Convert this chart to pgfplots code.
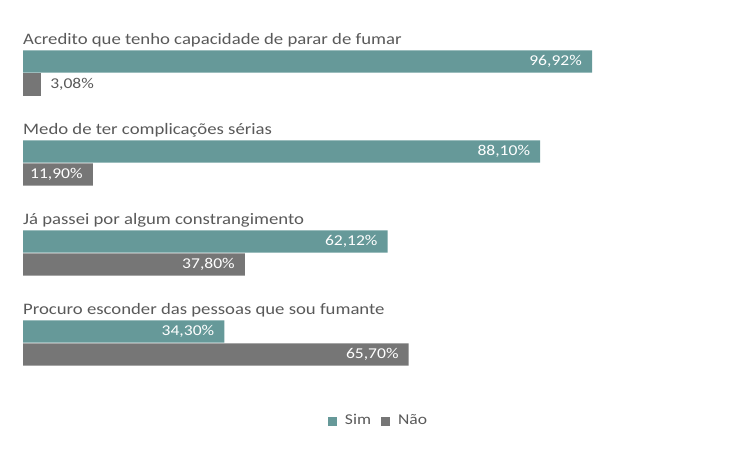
\documentclass[border=0pt]{standalone}
\usepackage{pgfplots}
\pgfplotsset{compat=1.18}
\usepackage{fontspec}
\setmainfont{Carlito}[FakeStretch=1.17]
\definecolor{simc}{RGB}{102,153,153}
\definecolor{naoc}{RGB}{118,118,118}
\definecolor{txt}{RGB}{89,89,89}
\begin{document}
\fontsize{16bp}{19bp}\selectfont
\begin{tikzpicture}
\useasboundingbox (-23bp,-64.5bp) rectangle (728bp,385.5bp);
\begin{axis}[
  at={(0,0)}, anchor=south west,
  scale only axis, width=587.1bp, height=378bp,
  xmin=0, xmax=100, ymin=-0.6, ymax=3.6, y dir=reverse,
  axis lines=none, ticks=none, clip=false,
  xbar, bar shift=0pt, bar width=0.245,
  point meta=explicit symbolic,
  nodes near coords,
  nodes near coords style={font=\fontsize{15bp}{18bp}\selectfont, text=white, anchor=east, inner sep=0pt, xshift=-10bp},
  legend style={at={(axis description cs:0.6055,-0.094)}, anchor=center, draw=none, fill=none,
    legend columns=2, font=\fontsize{15bp}{18bp}\selectfont\color{txt},
    /tikz/every even column/.append style={column sep=8bp}},
  legend image code/.code={\fill[#1] (0bp,-4.5bp) rectangle (9bp,4.5bp); \path (15bp,0bp);},
]
\addplot[fill=simc, draw=none] coordinates {
 (96.92,0) [96,92\%]
 (88.10,1) [88,10\%]
 (62.12,2) [62,12\%]
 (34.30,3) [34,30\%]
};
\addlegendentry{Sim}
\addplot[fill=naoc, draw=none] coordinates {
 (11.90,1.2556) [11,90\%]
 (37.80,2.2556) [37,80\%]
 (65.70,3.2556) [65,70\%]
};
\addlegendentry{Não}
\addplot[fill=naoc, draw=none, forget plot, nodes near coords style={text=txt, anchor=west, xshift=19bp}] coordinates {
 (3.08,0.2556) [3,08\%]
};
\foreach \k/\lab in {0/{Acredito que tenho capacidade de parar de fumar},1/{Medo de ter complicações sérias},2/{Já passei por algum constrangimento},3/{Procuro esconder das pessoas que sou fumante}}{
  \edef\tmp{\noexpand\node[anchor=base west, inner sep=0pt, text=txt, yshift=6bp] at (axis cs:0,\k-0.1225) {\unexpanded\expandafter{\lab}};}
  \tmp
}
\end{axis}
\end{tikzpicture}
\end{document}
